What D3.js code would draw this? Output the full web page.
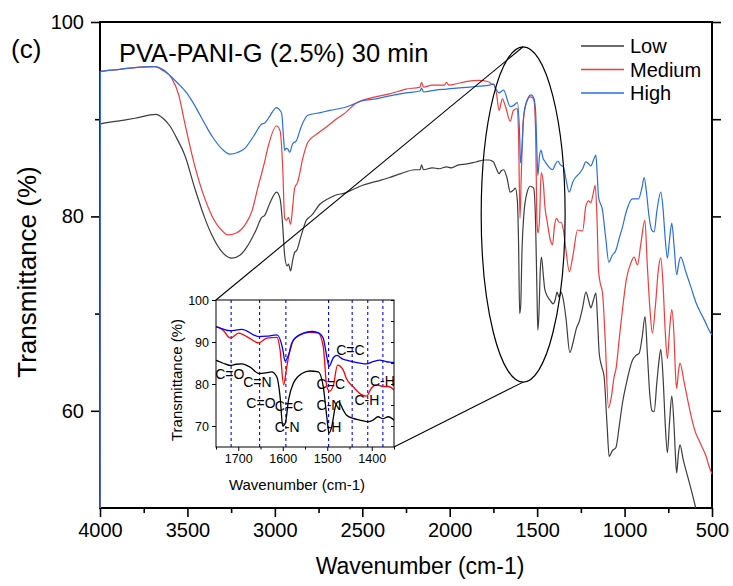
<!DOCTYPE html>
<html>
<head>
<meta charset="utf-8">
<script src="https://d3js.org/d3.v7.min.js"></script>
<style>
  body { margin: 0; background: #fff; }
  svg text { font-family: "Liberation Sans", Arial, sans-serif; fill: #000; }
</style>
</head>
<body>
<div id="chart"></div>
<script>
// spectra: [wavenumber (cm-1), transmittance (%)]
const lowData = [
  [4000, 0], [3998, 89.5], [3900, 89.8], [3800, 90.1], [3680, 90.5], [3640, 90.1], [3600, 89.3],
  [3560, 88.0], [3515, 86.3], [3458, 82.9], [3400, 79.8], [3361, 78.1], [3300, 76.3], [3246, 75.7],
  [3200, 76.0], [3155, 77.0], [3110, 78.5], [3075, 79.9], [3058, 80.1], [3030, 81.3], [2990, 82.5],
  [2970, 81.8], [2955, 79.0], [2944, 76.0], [2930, 74.9], [2922, 75.1], [2910, 74.4], [2898, 75.5],
  [2887, 76.3], [2875, 76.5], [2850, 78.0], [2820, 79.6], [2790, 80.1], [2740, 81.3], [2698, 81.8],
  [2650, 82.2], [2601, 82.4], [2550, 82.8], [2498, 83.2], [2420, 83.6], [2344, 84.0], [2280, 84.4],
  [2200, 84.8], [2170, 84.8], [2161, 85.3], [2150, 84.8], [2100, 85.0], [2060, 84.9], [2019, 85.1],
  [1990, 85.0], [1950, 85.3], [1900, 85.4], [1850, 85.6], [1800, 85.8], [1775, 85.8], [1750, 85.6],
  [1735, 85.0], [1718, 84.4], [1705, 84.7], [1692, 84.8], [1673, 84.0], [1654, 82.5], [1636, 82.7],
  [1625, 82.9], [1613, 81.6], [1606, 77.0], [1600, 70.0], [1594, 70.8], [1587, 76.2], [1576, 80.2],
  [1557, 82.5], [1539, 83.1], [1520, 82.9], [1509, 79.4], [1501, 72.2], [1496, 68.3], [1490, 69.8],
  [1482, 74.5], [1475, 75.8], [1464, 73.8], [1457, 72.6], [1442, 71.8], [1427, 71.4], [1409, 71.0],
  [1397, 71.4], [1386, 72.2], [1375, 71.7], [1363, 72.2], [1350, 71.4], [1335, 69.5], [1313, 66.0],
  [1295, 67.0], [1275, 68.5], [1259, 69.2], [1240, 70.6], [1221, 72.2], [1205, 71.3], [1193, 70.6],
  [1178, 71.4], [1164, 72.1], [1155, 69.5], [1145, 65.9], [1130, 64.5], [1117, 63.5], [1100, 58.5],
  [1088, 55.3], [1070, 55.9], [1050, 56.2], [1030, 58.5], [1012, 60.8], [990, 62.8], [955, 65.2],
  [935, 65.7], [917, 65.9], [900, 67.5], [883, 69.7], [870, 66.0], [855, 61.5], [843, 60.0],
  [831, 59.9], [815, 63.0], [800, 65.6], [793, 66.3], [780, 63.5], [767, 58.5], [755, 55.7],
  [743, 58.8], [730, 61.5], [718, 58.8], [708, 55.0], [702, 53.6], [692, 55.6], [683, 56.5],
  [665, 55.0], [640, 53.3], [615, 51.6], [593, 50.0], [560, 47.5], [500, 43.0]
];
const mediumData = [
  [4000, 0], [3998, 94.9], [3900, 95.1], [3800, 95.3], [3686, 95.4], [3640, 95.0], [3589, 94.2],
  [3550, 92.5], [3515, 89.6], [3458, 85.2], [3400, 81.8], [3361, 80.1], [3300, 78.5], [3269, 78.1],
  [3220, 78.3], [3172, 79.1], [3130, 80.6], [3098, 82.9], [3060, 85.5], [3041, 87.0], [2990, 89.3],
  [2970, 88.8], [2955, 85.0], [2944, 79.8], [2933, 79.6], [2922, 79.9], [2910, 79.2], [2898, 81.0],
  [2887, 82.9], [2870, 83.5], [2840, 86.0], [2812, 87.6], [2750, 88.6], [2698, 89.3], [2650, 90.0],
  [2601, 90.6], [2540, 91.6], [2450, 92.2], [2344, 92.6], [2250, 93.1], [2170, 93.3], [2161, 93.8],
  [2150, 93.3], [2100, 93.5], [2030, 93.5], [2019, 93.8], [2005, 93.5], [1950, 93.7], [1900, 93.9],
  [1830, 94.0], [1790, 93.9], [1773, 93.8], [1760, 93.6], [1750, 93.6], [1733, 92.7], [1718, 90.9],
  [1699, 92.1], [1681, 91.3], [1654, 89.8], [1636, 90.9], [1613, 91.1], [1606, 88.1], [1598, 79.8],
  [1591, 84.1], [1580, 89.7], [1561, 91.7], [1539, 92.3], [1520, 92.1], [1509, 88.9], [1501, 79.4],
  [1495, 78.3], [1486, 79.8], [1477, 84.5], [1464, 83.3], [1457, 81.3], [1442, 79.4], [1425, 77.6],
  [1412, 77.1], [1401, 79.0], [1389, 79.8], [1375, 79.4], [1363, 79.4], [1350, 78.6], [1335, 76.5],
  [1316, 74.3], [1295, 76.0], [1269, 78.6], [1240, 78.5], [1221, 81.1], [1205, 81.6], [1193, 81.4],
  [1180, 82.3], [1168, 83.2], [1158, 80.0], [1149, 74.5], [1140, 73.2], [1126, 72.1], [1110, 67.0],
  [1092, 60.3], [1075, 61.5], [1060, 63.5], [1050, 64.2], [1030, 67.5], [1012, 70.4], [990, 73.5],
  [964, 75.2], [945, 75.8], [926, 75.0], [907, 77.2], [884, 79.6], [870, 75.0], [855, 70.5],
  [841, 68.0], [825, 70.5], [805, 74.8], [793, 75.7], [780, 73.0], [767, 68.0], [755, 65.4],
  [742, 68.5], [730, 70.4], [718, 68.0], [708, 63.5], [702, 62.3], [692, 64.0], [683, 64.9],
  [660, 63.0], [640, 61.2], [620, 59.5], [593, 57.7], [575, 57.0], [555, 56.2], [535, 55.4],
  [517, 54.3], [500, 53.5]
];
const highData = [
  [4000, 0], [3998, 94.9], [3900, 95.1], [3800, 95.3], [3686, 95.4], [3640, 95.1], [3600, 94.5],
  [3555, 93.7], [3500, 92.6], [3458, 91.4], [3400, 89.5], [3361, 88.3], [3300, 86.9], [3258, 86.4],
  [3210, 86.6], [3172, 87.0], [3120, 88.3], [3075, 89.5], [3058, 89.6], [3030, 90.3], [2990, 91.2],
  [2975, 91.0], [2961, 90.6], [2950, 88.0], [2944, 86.8], [2935, 87.0], [2925, 86.9], [2915, 86.6],
  [2900, 87.4], [2892, 87.6], [2880, 87.7], [2850, 89.2], [2812, 90.4], [2733, 90.7], [2687, 90.9],
  [2601, 91.2], [2498, 91.9], [2420, 92.1], [2344, 92.4], [2250, 92.7], [2170, 92.9], [2161, 93.2],
  [2150, 92.8], [2080, 93.0], [2019, 93.1], [1960, 93.2], [1887, 93.3], [1830, 93.4], [1773, 93.5],
  [1750, 93.6], [1735, 93.1], [1718, 92.7], [1692, 93.0], [1654, 91.3], [1636, 91.4], [1613, 91.7],
  [1600, 88.3], [1595, 85.5], [1587, 86.9], [1576, 90.5], [1554, 92.1], [1535, 92.5], [1520, 92.2],
  [1509, 90.9], [1501, 86.5], [1496, 84.2], [1486, 86.3], [1478, 86.8], [1465, 85.9], [1457, 85.7],
  [1442, 85.3], [1412, 84.8], [1397, 85.3], [1382, 85.7], [1367, 85.3], [1350, 85.1], [1335, 83.8],
  [1317, 82.5], [1295, 83.6], [1271, 84.2], [1259, 84.4], [1240, 84.9], [1221, 85.6], [1205, 85.4],
  [1193, 85.2], [1178, 85.8], [1164, 86.3], [1157, 84.5], [1149, 82.0], [1126, 80.6], [1108, 77.8],
  [1090, 75.3], [1070, 76.0], [1050, 76.5], [1030, 77.8], [1012, 78.9], [990, 80.5], [955, 81.8],
  [921, 81.8], [900, 83.0], [888, 84.0], [875, 82.5], [860, 80.0], [845, 78.6], [831, 78.4],
  [815, 80.6], [793, 82.5], [780, 80.8], [768, 77.8], [755, 75.7], [743, 77.6], [730, 79.3],
  [717, 77.0], [702, 74.0], [690, 75.2], [679, 75.8], [650, 74.3], [620, 72.7], [593, 71.2],
  [560, 69.9], [540, 69.2], [517, 68.3], [500, 67.8]
];
const seriesNames = ["Low", "Medium", "High"];
const xTicks = [4000, 3500, 3000, 2500, 2000, 1500, 1000, 500];
const xMinorTicks = [3750, 3250, 2750, 2250, 1750, 1250, 750];
const yTicks = [100, 80, 60];
const yMinorTicks = [90, 70];
const insetXTicks = [1700, 1600, 1500, 1400];
const insetXMinor = [1750, 1650, 1550, 1450, 1350];
const insetYTicks = [100, 90, 80, 70];
const insetYMinor = [95, 85, 75];
// dashed band positions and bond labels in the inset
const bandLines = [1716, 1652, 1593, 1497, 1444, 1409, 1375];
const bandLabels = [
  {text: "C=O", wn: 1719, t: 82.5}, {text: "C=N", wn: 1657, t: 80.4},
  {text: "C=O", wn: 1649, t: 75.5}, {text: "C=C", wn: 1586, t: 74.7},
  {text: "C-N", wn: 1590, t: 69.7}, {text: "C=C", wn: 1492, t: 79.9},
  {text: "C-N", wn: 1496, t: 74.9}, {text: "C-H", wn: 1496, t: 69.7},
  {text: "C=C", wn: 1448, t: 88.0}, {text: "C-H", wn: 1411, t: 76.1},
  {text: "C-H", wn: 1376, t: 80.6}
];
// zoom ellipse around the fingerprint region (centre and half-axes in data units)
const zoomEllipse = {wn: 1580, t: 80.2, rWn: 240, rT: 17.25};

const series = [lowData, mediumData, highData];
const mainColors = ["#3d3d3d", "#f03c3c", "#2a6fe0"];
const insetColors = ["#000000", "#ff0000", "#0000ff"];

const W = 733, H = 586;
const svg = d3.select("#chart").append("svg")
  .attr("width", W).attr("height", H);

const x = d3.scaleLinear().domain([4000, 500]).range([100, 712]);
const y = d3.scaleLinear().domain([50, 100]).range([508, 22]);

const line = d3.line()
  .x(d => x(d[0])).y(d => y(d[1]))
  .curve(d3.curveMonotoneX);

svg.append("clipPath").attr("id", "mainClip")
  .append("rect").attr("x", 99).attr("y", 22).attr("width", 614).attr("height", 486);

// axes
function styleAxis(g) {
  g.select(".domain").remove();
  g.selectAll(".tick line").attr("stroke", "#000").attr("stroke-width", 1.6);
  g.selectAll(".tick text").attr("font-size", 20);
}
svg.append("g").attr("transform", "translate(0,508)")
  .call(d3.axisBottom(x).tickValues(xTicks).tickSize(9).tickPadding(6).tickFormat(d3.format("d")))
  .call(styleAxis);
svg.append("g").attr("transform", "translate(0,508)")
  .call(d3.axisBottom(x).tickValues(xMinorTicks).tickSize(5).tickFormat(""))
  .call(styleAxis);
svg.append("g").attr("transform", "translate(100,0)")
  .call(d3.axisLeft(y).tickValues(yTicks).tickSize(9).tickPadding(7))
  .call(styleAxis);
svg.append("g").attr("transform", "translate(100,0)")
  .call(d3.axisLeft(y).tickValues(yMinorTicks).tickSize(5).tickFormat(""))
  .call(styleAxis);
svg.append("g").attr("transform", "translate(712,0)")
  .call(d3.axisRight(y).tickValues([100, 90, 80, 70, 60]).tickSize(9).tickFormat(""))
  .call(styleAxis);

svg.append("rect")
  .attr("x", 100).attr("y", 22).attr("width", 612).attr("height", 486)
  .attr("fill", "none").attr("stroke", "#000").attr("stroke-width", 2);

// curves
svg.append("g").attr("clip-path", "url(#mainClip)")
  .selectAll("path").data(series).join("path")
  .attr("d", line)
  .attr("fill", "none")
  .attr("stroke", (d, i) => mainColors[i])
  .attr("stroke-width", 1.2);

// axis titles
svg.append("text").attr("x", 420).attr("y", 574)
  .attr("text-anchor", "middle").attr("font-size", 23).text("Wavenumber (cm-1)");
svg.append("text").attr("transform", "translate(36,272) rotate(-90)")
  .attr("text-anchor", "middle").attr("font-size", 26).text("Transmittance (%)");

svg.append("text").attr("x", 11).attr("y", 58).attr("font-size", 26).text("(c)");
svg.append("text").attr("x", 119).attr("y", 62).attr("font-size", 25.5)
  .text("PVA-PANI-G (2.5%) 30 min");

// legend
const legendItems = seriesNames.map((name, i) => ({name, color: mainColors[i]}));
const legend = svg.append("g").attr("class", "legend");
legendItems.forEach((item, i) => {
  const row = legend.append("g").attr("transform", `translate(581,${46 + i * 23.5})`);
  row.append("path").attr("d", "M0,0H43")
    .style("stroke", item.color).style("stroke-width", "1.3px").style("fill", "none");
  row.append("text").attr("x", 49).attr("y", 7).attr("font-size", 20).text(item.name);
});

// zoom ellipse
const eTop = [x(zoomEllipse.wn), y(zoomEllipse.t + zoomEllipse.rT)];
const eBot = [x(zoomEllipse.wn), y(zoomEllipse.t - zoomEllipse.rT)];
svg.append("ellipse")
  .attr("cx", x(zoomEllipse.wn)).attr("cy", y(zoomEllipse.t))
  .attr("rx", Math.abs(x(zoomEllipse.wn + zoomEllipse.rWn) - x(zoomEllipse.wn)))
  .attr("ry", Math.abs(y(zoomEllipse.t + zoomEllipse.rT) - y(zoomEllipse.t)))
  .attr("fill", "none").attr("stroke", "#000").attr("stroke-width", 1.2);

// inset
const ix = d3.scaleLinear().domain([1750, 1350]).range([216, 394]);
const iy = d3.scaleLinear().domain([65, 100]).range([447, 300]);

svg.append("line").attr("x1", 216).attr("y1", 300).attr("x2", eTop[0]).attr("y2", eTop[1])
  .attr("stroke", "#000").attr("stroke-width", 1.1);
svg.append("line").attr("x1", 394).attr("y1", 447).attr("x2", eBot[0]).attr("y2", eBot[1])
  .attr("stroke", "#000").attr("stroke-width", 1.1);

const inset = svg.append("g");
inset.append("rect").attr("x", 216).attr("y", 300).attr("width", 178).attr("height", 147)
  .attr("fill", "#fff");
inset.append("clipPath").attr("id", "insetClip")
  .append("rect").attr("x", 216).attr("y", 300).attr("width", 178).attr("height", 147);

inset.append("g").selectAll("line").data(bandLines).join("line")
  .attr("x1", d => ix(d)).attr("x2", d => ix(d))
  .attr("y1", iy(100)).attr("y2", iy(65))
  .attr("stroke", "#0000ff").attr("stroke-width", 1.1).attr("stroke-dasharray", "3,3");

const iline = d3.line().x(d => ix(d[0])).y(d => iy(d[1])).curve(d3.curveMonotoneX);
inset.append("g").attr("clip-path", "url(#insetClip)")
  .selectAll("path").data(series).join("path")
  .attr("d", iline).attr("fill", "none")
  .attr("stroke", (d, i) => insetColors[i]).attr("stroke-width", 1.3);

function styleInset(g) {
  g.select(".domain").remove();
  g.selectAll(".tick line").attr("stroke", "#000");
  g.selectAll(".tick text").attr("font-size", 12.5).attr("fill", "#222");
}
inset.append("g").attr("transform", "translate(0,447)")
  .call(d3.axisBottom(ix).tickValues(insetXTicks).tickSize(4).tickPadding(3).tickFormat(d3.format("d")))
  .call(styleInset);
inset.append("g").attr("transform", "translate(0,447)")
  .call(d3.axisBottom(ix).tickValues(insetXMinor).tickSize(2.5).tickFormat(""))
  .call(styleInset);
inset.append("g").attr("transform", "translate(216,0)")
  .call(d3.axisLeft(iy).tickValues(insetYTicks).tickSize(4).tickPadding(3))
  .call(styleInset);
inset.append("g").attr("transform", "translate(394,0)")
  .call(d3.axisLeft(iy).tickValues(insetYMinor.concat(insetYTicks)).tickSize(3).tickFormat(""))
  .call(styleInset);
inset.append("rect").attr("x", 216).attr("y", 300).attr("width", 178).attr("height", 147)
  .attr("fill", "none").attr("stroke", "#000").attr("stroke-width", 1);

inset.append("g").selectAll("text").data(bandLabels).join("text")
  .attr("x", d => ix(d.wn)).attr("y", d => iy(d.t))
  .attr("text-anchor", "middle").attr("dominant-baseline", "central")
  .attr("font-size", 14).text(d => d.text);

inset.append("text").attr("x", 297).attr("y", 489.5)
  .attr("text-anchor", "middle").attr("font-size", 15).attr("fill", "#222").text("Wavenumber (cm-1)");
inset.append("text").attr("transform", "translate(182,380) rotate(-90)")
  .attr("text-anchor", "middle").attr("font-size", 15).attr("fill", "#222").text("Transmittance (%)");
</script>
</body>
</html>
